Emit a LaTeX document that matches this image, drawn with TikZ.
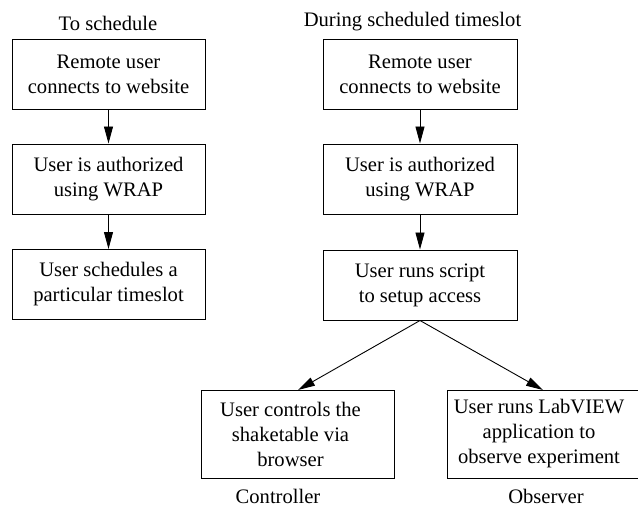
\documentclass[tikz,border=0pt]{standalone}
\usepackage{fontspec}
\setmainfont{Liberation Serif}
\usetikzlibrary{arrows.meta}
\begin{document}
\begin{tikzpicture}[x=1pt,y=-1pt,
  box/.style={draw,line width=1pt,inner sep=0pt,align=center,
    font=\fontsize{20.6}{25}\selectfont},
  lbl/.style={inner sep=0pt,font=\fontsize{20.6}{25}\selectfont},
  arr/.style={line width=0.9pt,-{Triangle[length=17pt,width=9pt]}}]
\useasboundingbox (0,0) rectangle (638,507);
\node[lbl,anchor=base] (t1) at (108,30) {To schedule};
\node[lbl,anchor=base] (t2) at (412.5,26) {During scheduled timeslot};
\node[box,minimum width=193pt,minimum height=70pt] (a1) at (108.5,74) {Remote user\\connects to website};
\node[box,minimum width=193pt,minimum height=70pt] (a2) at (108.5,179) {User is authorized\\using WRAP};
\node[box,minimum width=193pt,minimum height=70pt] (a3) at (108.5,284.5) {User schedules a\\particular timeslot};
\node[box,minimum width=194pt,minimum height=70pt] (b1) at (420,74) {Remote user\\connects to website};
\node[box,minimum width=194pt,minimum height=70pt] (b2) at (420,179) {User is authorized\\using WRAP};
\node[box,minimum width=194pt,minimum height=70pt] (b3) at (420,285) {User runs script\\to setup access};
\node[box,minimum width=193pt,minimum height=88pt,
  label={[box,draw=none,xshift=-7pt]center:User controls the\\shaketable via\\browser}] (c1) at (297.5,434) {};
\node[box,minimum width=192pt,minimum height=88pt,
  label={[box,draw=none,xshift=-4pt]center:User runs LabVIEW\\application to\\observe experiment}] (c2) at (543,434) {};
\node[lbl,anchor=base] (l1) at (278,503.5) {Controller};
\node[lbl,anchor=base] (l2) at (546,503.5) {Observer};
\coordinate (p1) at (298,390);
\coordinate (p2) at (543,390);
\draw[arr] (a1) -- (a2);
\draw[arr] (a2) -- (a3);
\draw[arr] (b1) -- (b2);
\draw[arr] (b2) -- (b3);
\draw[arr] (b3.south) -- (p1);
\draw[arr] (b3.south) -- (p2);
\end{tikzpicture}
\end{document}
